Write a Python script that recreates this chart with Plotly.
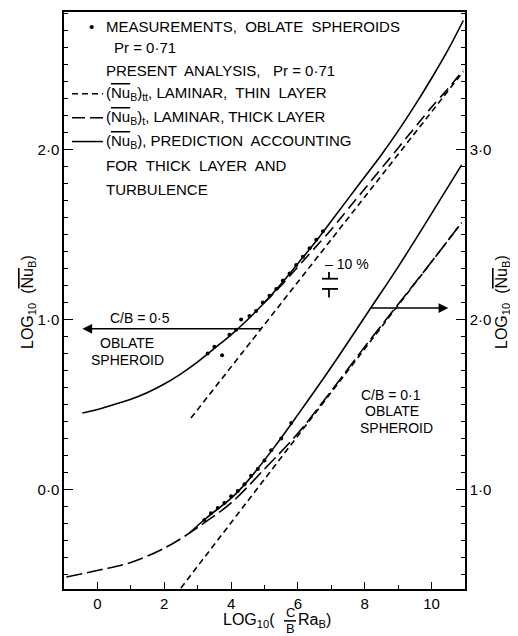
import plotly.graph_objects as go

# ---------------- data ----------------
# C/B = 0.5 group, left axis units
upper_solid_x = [-0.45, 0, 0.5, 1, 1.5, 2, 2.5, 3, 3.5, 4, 4.5, 5, 5.5, 6, 6.5, 7, 7.5, 8, 8.5, 9, 9.5, 10, 10.5, 10.95]
upper_solid_y = [0.45, 0.47, 0.50, 0.53, 0.57, 0.62, 0.68, 0.75, 0.83, 0.91, 1.00, 1.10, 1.21, 1.33, 1.45, 1.58, 1.71, 1.84, 1.97, 2.11, 2.26, 2.42, 2.59, 2.76]
upper_thick_x = [5.0, 5.5, 6.0, 6.5, 7.0, 7.5, 8.0, 8.5, 9.0, 9.5, 10.0, 10.5, 10.95]
upper_thick_y = [1.10, 1.20, 1.31, 1.42, 1.53, 1.65, 1.77, 1.89, 2.01, 2.13, 2.25, 2.36, 2.47]
upper_thin_x = [2.8, 10.95]
upper_thin_y = [0.42, 2.46]
upper_meas_x = [3.3, 3.5, 3.73, 3.95, 4.15, 4.3, 4.55, 4.75, 4.95, 5.15, 5.35, 5.55, 5.75, 5.95, 6.15, 6.35, 6.55, 6.75]
upper_meas_y = [0.80, 0.84, 0.79, 0.91, 0.94, 1.00, 1.02, 1.05, 1.10, 1.14, 1.18, 1.23, 1.27, 1.32, 1.37, 1.42, 1.47, 1.52]

# C/B = 0.1 group, right axis units
lower_thick_x = [-0.93, 0.06, 1.04, 2.06, 2.75, 3.25, 4.0, 5.0, 6.0, 7.0, 8.0, 9.0, 10.0, 10.9]
lower_thick_y = [0.484, 0.525, 0.572, 0.66, 0.742, 0.81, 0.92, 1.12, 1.33, 1.58, 1.84, 2.09, 2.34, 2.57]
lower_thin_x = [2.5, 10.9]
lower_thin_y = [0.42, 2.57]
lower_solid_x = [2.75, 3.25, 4.03, 4.5, 5.3, 6.0, 7.0, 8.12, 9.0, 9.8, 10.9]
lower_solid_y = [0.742, 0.83, 0.953, 1.05, 1.25, 1.44, 1.72, 2.05, 2.31, 2.56, 2.91]
lower_meas_x = [3.2, 3.4, 3.6, 3.8, 4.0, 4.2, 4.4, 4.6, 4.8, 5.0, 5.2, 5.5, 5.8]
lower_meas_y = [0.82, 0.86, 0.89, 0.92, 0.96, 0.99, 1.03, 1.08, 1.12, 1.17, 1.23, 1.30, 1.39]

x_tickvals = [0, 2, 4, 6, 8, 10]
x_ticktext = ["0", "2", "4", "6", "8", "10"]
yl_tickvals = [0, 1, 2]
yl_ticktext = ["0·0", "1·0", "2·0"]
yr_tickvals = [1, 2, 3]
yr_ticktext = ["1·0", "2·0", "3·0"]

# ---------------- figure ----------------
OFF = 8  # page body margin
W, H = 518 - OFF, 636 - OFF
PL, PR, PT, PB = 64, 465, 10, 589   # plot frame in window pixels
FONT = "Liberation Sans, Arial, sans-serif"


def px(xp):
    return (xp - PL) / (PR - PL)


def py(yp):
    return (PB - yp) / (PB - PT)


fig = go.Figure()
LW = 1.6
K = "black"

fig.add_trace(go.Scatter(x=upper_solid_x, y=upper_solid_y, mode="lines",
                         line=dict(color=K, width=LW, shape="spline")))
fig.add_trace(go.Scatter(x=upper_thick_x, y=upper_thick_y, mode="lines",
                         line=dict(color=K, width=LW, shape="spline", dash="12px,6px")))
fig.add_trace(go.Scatter(x=upper_thin_x, y=upper_thin_y, mode="lines",
                         line=dict(color=K, width=LW, dash="6px,4px")))
fig.add_trace(go.Scatter(x=upper_meas_x, y=upper_meas_y, mode="markers",
                         marker=dict(color=K, size=4)))

fig.add_trace(go.Scatter(x=lower_thick_x, y=lower_thick_y, mode="lines", yaxis="y2",
                         line=dict(color=K, width=LW, shape="spline", dash="16px,5px")))
fig.add_trace(go.Scatter(x=lower_thin_x, y=lower_thin_y, mode="lines", yaxis="y2",
                         line=dict(color=K, width=LW, dash="6px,4px")))
fig.add_trace(go.Scatter(x=lower_solid_x, y=lower_solid_y, mode="lines", yaxis="y2",
                         line=dict(color=K, width=LW, shape="spline")))
fig.add_trace(go.Scatter(x=lower_meas_x, y=lower_meas_y, mode="markers", yaxis="y2",
                         marker=dict(color=K, size=4)))

NU = "(<span style='text-decoration:overline'>Nu</span><sub>B</sub>)"

ann = []


def txt(text, xp, yp, size=15, xanchor="left", angle=0):
    ann.append(dict(text=text, x=px(xp), y=py(yp), xref="paper", yref="paper",
                    xanchor=xanchor, yanchor="middle", showarrow=False, textangle=angle,
                    borderpad=0, font=dict(family=FONT, size=size, color=K)))


# legend block
txt("•", 88, 25)
txt("MEASUREMENTS,  OBLATE  SPHEROIDS", 105, 25)
txt("Pr = 0·71", 113, 46)
txt("PRESENT  ANALYSIS,   Pr = 0·71", 105, 69)
txt(NU + "<sub>tt</sub>, LAMINAR,  THIN  LAYER", 105, 92)
txt(NU + "<sub>t</sub>, LAMINAR, THICK LAYER", 105, 116)
txt(NU + ", PREDICTION  ACCOUNTING", 105, 140)
txt("FOR  THICK  LAYER  AND", 105, 164)
txt("TURBULENCE", 105, 188)

# group labels
txt("C/B = 0·5", 140, 317, size=14, xanchor="center")
txt("OBLATE", 127, 342, size=14, xanchor="center")
txt("SPHEROID", 127, 359, size=14, xanchor="center")
txt("C/B = 0·1", 391, 394, size=14, xanchor="center")
txt("OBLATE", 392, 410, size=14, xanchor="center")
txt("SPHEROID", 396, 427, size=14, xanchor="center")
txt("– 10 %", 324, 263, size=14)

# axis titles
txt("LOG<sub>10</sub>  " + NU, 29, 301, size=16, xanchor="center", angle=-90)
txt("LOG<sub>10</sub>  " + NU, 503, 301, size=16, xanchor="center", angle=-90)
txt("LOG<sub>10</sub>(", 276, 621, size=16, xanchor="right")
txt("C", 290, 613, size=13, xanchor="center")
txt("B", 290, 629, size=13, xanchor="center")
txt("Ra<sub>B</sub>)", 297, 621, size=16)

# arrows
ann.append(dict(x=-0.45, y=0.945, ax=4.93, ay=0.945, xref="x", yref="y", axref="x", ayref="y",
                showarrow=True, arrowhead=2, arrowsize=1.3, arrowwidth=1.5, arrowcolor=K, text=""))
ann.append(dict(x=10.5, y=2.067, ax=8.12, ay=2.067, xref="x", yref="y2", axref="x", ayref="y2",
                showarrow=True, arrowhead=2, arrowsize=1.3, arrowwidth=1.5, arrowcolor=K, text=""))

shapes = []


def pline(x0, x1, yp, dash="solid"):
    shapes.append(dict(type="line", xref="paper", yref="paper", x0=px(x0), x1=px(x1),
                       y0=py(yp), y1=py(yp), line=dict(color=K, width=1.5, dash=dash)))


pline(72, 103, 92, "6px,4px")
pline(72, 103, 116, "13px,5px")
pline(72, 103, 140)
pline(284, 296, 621)

# +-10% symbol (data coordinates)
for (x0, x1, y0, y1) in [(6.72, 7.2, 1.24, 1.24), (6.72, 7.2, 1.18, 1.18),
                         (6.93, 6.93, 1.24, 1.28), (6.93, 6.93, 1.18, 1.13)]:
    shapes.append(dict(type="line", xref="x", yref="y", x0=x0, x1=x1, y0=y0, y1=y1,
                       line=dict(color=K, width=1.8)))

axis_common = dict(showgrid=False, zeroline=False, showline=True, linecolor=K, linewidth=1.5,
                   ticks="inside", tickcolor=K, tickwidth=1.3,
                   tickfont=dict(family=FONT, size=15, color=K))

fig.update_layout(
    width=W, height=H,
    margin=dict(l=PL - OFF, r=518 - PR, t=PT - OFF, b=636 - PB),
    paper_bgcolor="white", plot_bgcolor="white",
    showlegend=False,
    xaxis=dict(range=[-1.0, 11.0], tickvals=x_tickvals, ticktext=x_ticktext, ticklen=7,
               mirror=True, minor=dict(dtick=1, tick0=0, ticklen=4, ticks="inside", tickcolor=K),
               **axis_common),
    yaxis=dict(range=[-0.5865, 2.81], tickvals=yl_tickvals, ticktext=yl_ticktext, ticklen=9,
               minor=dict(dtick=0.1, tick0=0, ticklen=4, ticks="inside", tickcolor=K),
               **axis_common),
    yaxis2=dict(range=[0.4135, 3.81], tickvals=yr_tickvals, ticktext=yr_ticktext, ticklen=9,
                overlaying="y", side="right",
                minor=dict(dtick=0.1, tick0=0, ticklen=4, ticks="inside", tickcolor=K),
                **axis_common),
    annotations=ann,
    shapes=shapes,
)

fig.write_html("out.html")
